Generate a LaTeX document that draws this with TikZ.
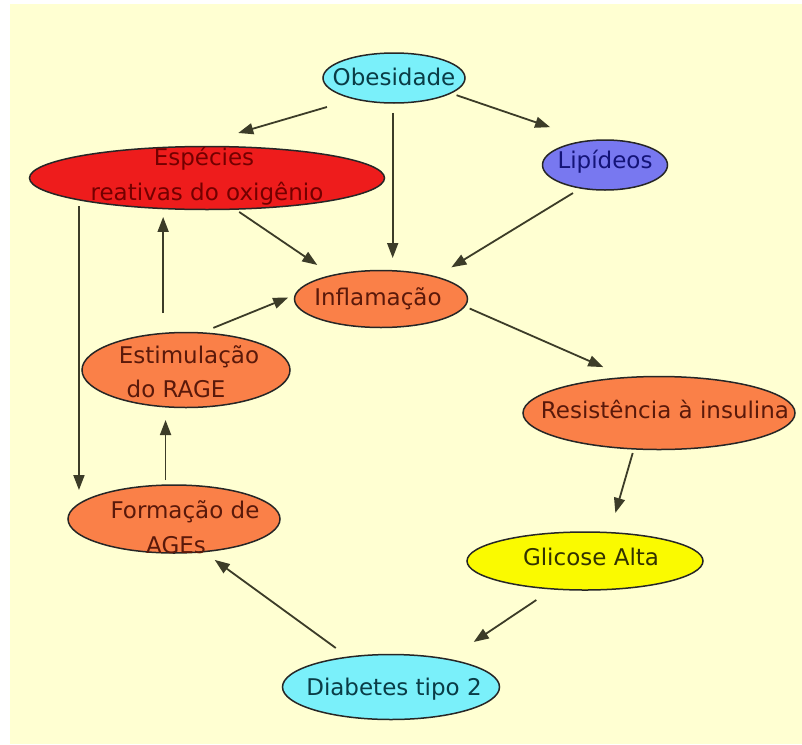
\documentclass[tikz,border=0pt]{standalone}
\usepackage{fontspec}
\setmainfont{DejaVu Sans}
\usetikzlibrary{shapes.geometric,arrows.meta}
\definecolor{bgy}{RGB}{255,255,210}
\definecolor{cyanf}{RGB}{122,240,250}
\definecolor{redf}{RGB}{238,28,28}
\definecolor{lipf}{RGB}{120,120,240}
\definecolor{orf}{RGB}{250,128,72}
\definecolor{yelf}{RGB}{250,250,0}
\definecolor{tealt}{RGB}{10,60,70}
\definecolor{redt}{RGB}{115,0,0}
\definecolor{navyt}{RGB}{20,20,120}
\definecolor{brownt}{RGB}{90,25,10}
\definecolor{olivet}{RGB}{50,50,0}
\definecolor{arrc}{RGB}{60,60,40}
\newcommand\tl[3][0pt]{\hspace*{#1}\makebox[0pt]{\raisebox{#2}[0pt][0pt]{#3}}\hspace*{-#1}}
\begin{document}
\begin{tikzpicture}[x=1pt,y=-1pt,
  ell/.style={ellipse, draw=black!85, line width=1.5pt, inner sep=0pt, outer sep=0pt,
              font=\fontsize{23}{28}\selectfont},
  arr/.style={draw=arrc, line width=1.8pt, -{Triangle[length=15pt,width=11pt]}}]
\useasboundingbox (0,0) rectangle (802,744);
\fill[white] (0,0) rectangle (802,744);
\fill[bgy] (10,4) rectangle (802,744);

\node[ell, fill=cyanf, text=tealt, minimum width=142pt, minimum height=50pt] (O) at (394,78)
  {\tl{-7pt}{Obesidade}};
\node[ell, fill=redf, text=redt, minimum width=355pt, minimum height=63pt] (E) at (207,178)
  {\tl[-3pt]{13pt}{Espécies}\tl{-22pt}{reativas do oxigênio}};
\node[ell, fill=lipf, text=navyt, minimum width=125pt, minimum height=50pt] (Lip) at (605,165)
  {\tl{-3pt}{Lipídeos}};
\node[ell, fill=orf, text=brownt, minimum width=173pt, minimum height=57pt] (I) at (381,299)
  {\tl[-3pt]{-6pt}{Inflamação}};
\node[ell, fill=orf, text=brownt, minimum width=208pt, minimum height=75pt] (St) at (186,370)
  {\tl[3pt]{7pt}{Estimulação}\tl[-10pt]{-27pt}{do RAGE}};
\node[ell, fill=orf, text=brownt, minimum width=272pt, minimum height=73pt] (R) at (659,413)
  {\tl[6pt]{-5pt}{Resistência à insulina}};
\node[ell, fill=orf, text=brownt, minimum width=212pt, minimum height=68pt] (F) at (174,519)
  {\tl[11pt]{1pt}{Formação de}\tl[2pt]{-34pt}{AGEs}};
\node[ell, fill=yelf, text=olivet, minimum width=236pt, minimum height=58pt] (G) at (585,561)
  {\tl[6pt]{-4pt}{Glicose Alta}};
\node[ell, fill=cyanf, text=tealt, minimum width=217pt, minimum height=65pt] (D) at (391,687)
  {\tl[3pt]{-8pt}{Diabetes tipo 2}};

\draw[arr, shorten <=29pt, shorten >=48.5pt] (O.208.1) -- (E.116.4);
\draw[arr, shorten <=10pt, shorten >=12.8pt] (O.267.7) -- (O.267.7 |- I.66.9);
\draw[arr, shorten <=6.4pt, shorten >=42pt] (O.345.4) -- (Lip.122.2);
\draw[arr, shorten <=9.5pt, shorten >=18.4pt] (Lip.224) -- (I.22.9);
\draw[arr, shorten <=5.1pt, shorten >=18.5pt] (E.312.8) -- (I.154.3);
\draw[arr, shorten <=20.4pt, shorten >=8.5pt] (St.122.1) -- (St.122.1 |- E.214.7);
\draw[arr, shorten <=13.3pt, shorten >=8pt] (St.68.4) -- (I.177.3);
\draw[arr, shorten <=7.2pt, shorten >=13.9pt] (F.171 |- E.189.7) -- (F.171);
\draw[arr, shorten <=5.1pt, shorten >=13.3pt] (F.104.9) -- (F.104.9 |- St.240.2);
\draw[arr, shorten <=5.5pt, shorten >=26pt] (I.355.4) -- (R.132.2);
\draw[arr, shorten <=4.3pt, shorten >=20.5pt] (R.235.4) -- (G.49.7);
\draw[arr, shorten <=20pt, shorten >=31.2pt] (G.221.8) -- (D.26.5);
\draw[arr, shorten <=15.5pt, shorten >=14pt] (D.145.6) -- (F.312.2);
\end{tikzpicture}
\end{document}
